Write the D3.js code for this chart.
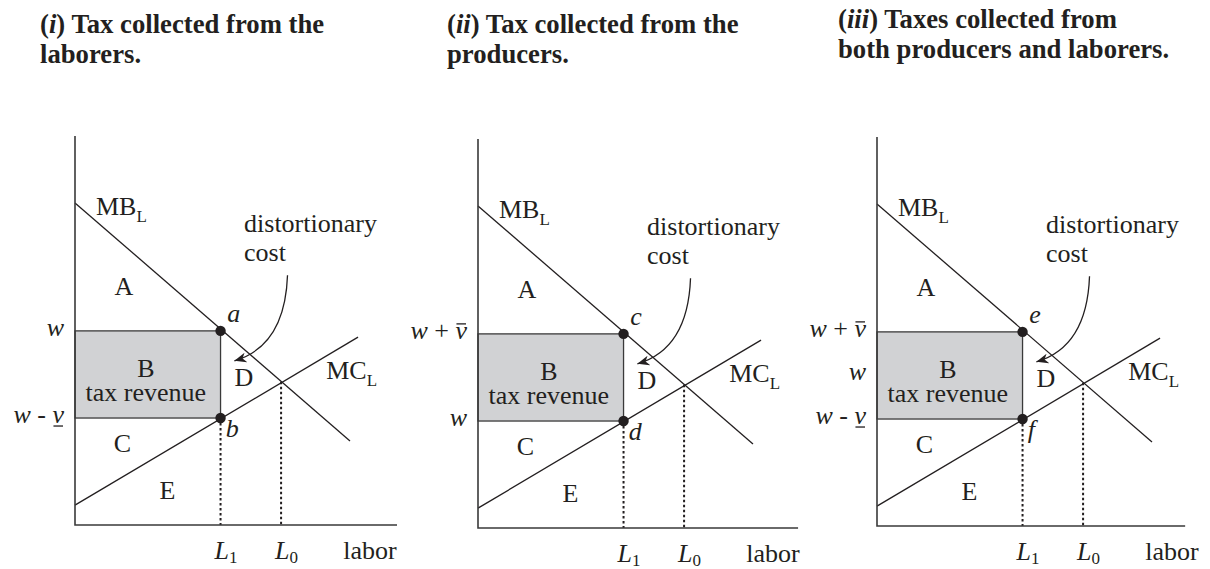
<!DOCTYPE html>
<html>
<head>
<meta charset="utf-8">
<script src="https://cdn.jsdelivr.net/npm/d3@7"></script>
<style>
  body { margin: 0; background: #fff; }
  text { font-family: "Liberation Serif", "Times New Roman", serif; fill: #231f20; }
</style>
</head>
<body>
<div id="container"></div>
<script>
let w = 1210;
let h = 569;

// DATA (axis units: labor 0-10, price 0-10)
let numerals = ["i", "ii", "iii"];
let titleFirst = [" Tax collected from the", " Tax collected from the", " Taxes collected from"];
let titleSecond = ["laborers.", "producers.", "both producers and laborers."];

let mbLine = [[0, 8.28], [8.54, 2.16]];   // MB_L
let mcLine = [[0, 0.51], [8.79, 4.83]];   // MC_L
let laborTaxed = 4.52;    // L1
let laborFree = 6.4;      // L0
let priceTop = 4.99;      // price on MB at L1
let priceBottom = 2.75;   // price on MC at L1
let priceEq = 3.68;       // MB = MC
let xMax = [10, 9.94, 9.57];
let yMax = 10;

let pointNames = [["a", "b"], ["c", "d"], ["e", "f"]];
let priceValues = [[priceTop, priceBottom], [priceTop, priceBottom], [priceTop, (priceTop + priceBottom) / 2, priceBottom]];
let priceNames = [["w", "w - v\u0332"], ["w + v\u0304", "w"], ["w + v\u0304", "w", "w - v\u0332"]];
let areaNames = ["A", "B", "C", "D", "E"];

// SVG
let viz = d3.select("#container").append("svg")
    .attr("width", w)
    .attr("height", h)
;

viz.append("defs").append("marker")
    .attr("id", "arrowhead")
    .attr("viewBox", "-12 -6 14 12")
    .attr("refX", 0)
    .attr("refY", 0)
    .attr("markerWidth", 14)
    .attr("markerHeight", 12)
    .attr("markerUnits", "userSpaceOnUse")
    .attr("orient", "auto")
  .append("path")
    .attr("d", "M0,0 L-12,-5 L-8.5,0 L-12,5 Z")
    .attr("fill", "#231f20")
;

let origins = [[75, 525], [478, 528], [877, 526]];
let titlePos = [[40, 33], [447, 33], [838, 28]];

function subLabel(g, x0, y0, main, sub, italic, shift) {
  let t = g.append("text").attr("x", x0).attr("y", y0).style("font-size", "26px");
  t.append("tspan").style("font-style", italic ? "italic" : "normal").text(main);
  t.append("tspan").attr("dy", shift).style("font-size", "17px").text(sub);
  return t;
}

function priceLabel(g, xr, yb, str) {
  let t = g.append("text").attr("x", xr).attr("y", yb)
      .attr("text-anchor", "end").style("font-size", "26px");
  let chars = Array.from(str);
  let marks = [];
  let idx = 0;
  for (let k = 0; k < chars.length; k++) {
    let c = chars[k];
    if (c == "\u0304" || c == "\u0332") continue;
    t.append("tspan").style("font-style", /[a-z]/.test(c) ? "italic" : "normal").text(c);
    if (chars[k + 1] == "\u0304") marks.push({i: idx, over: true});
    if (chars[k + 1] == "\u0332") marks.push({i: idx, over: false});
    idx++;
  }
  marks.forEach(function(m) {
    let r = t.node().getExtentOfChar(m.i);
    let yy = m.over ? yb - 15 : yb + 3;
    g.append("line")
        .attr("x1", r.x + 1).attr("x2", r.x + r.width - 1)
        .attr("y1", yy).attr("y2", yy)
        .attr("stroke", "#231f20").attr("stroke-width", 1.3);
  });
}

numerals.forEach(function(num, i) {
  let g = viz.append("g");
  let ox = origins[i][0], oy = origins[i][1];
  let x = d3.scaleLinear().domain([0, 10]).range([ox, ox + 322]);
  let y = d3.scaleLinear().domain([0, 10]).range([oy, oy - 389]);
  let lineMaker = d3.line().x(d => x(d[0])).y(d => y(d[1]));

  // title
  let tt = g.append("text").attr("x", titlePos[i][0]).attr("y", titlePos[i][1])
      .style("font-size", "26.7px").style("font-weight", "bold");
  tt.append("tspan").text("(");
  tt.append("tspan").style("font-style", "italic").text(num);
  tt.append("tspan").text(")" + titleFirst[i]);
  g.append("text").attr("x", titlePos[i][0]).attr("y", titlePos[i][1] + 30)
      .style("font-size", "26.7px").style("font-weight", "bold")
      .text(titleSecond[i]);

  // tax revenue box
  g.append("rect")
      .attr("x", x(0))
      .attr("y", y(priceTop))
      .attr("width", x(laborTaxed) - x(0))
      .attr("height", y(priceBottom) - y(priceTop))
      .attr("fill", "#d1d2d4")
      .attr("stroke", "#3a3a3a")
      .attr("stroke-width", 1.3)
  ;

  // curves
  g.selectAll(".curve").data([mbLine, mcLine]).enter()
    .append("path")
      .attr("class", "curve")
      .attr("d", lineMaker)
      .attr("fill", "none")
      .attr("stroke", "#231f20")
      .attr("stroke-width", 1.3)
  ;

  // dotted drop lines
  g.selectAll(".drop").data([[laborTaxed, priceBottom], [laborFree, priceEq]]).enter()
    .append("line")
      .attr("class", "drop")
      .attr("x1", d => x(d[0])).attr("x2", d => x(d[0]))
      .attr("y1", d => y(d[1])).attr("y2", y(0))
      .attr("stroke", "#231f20")
      .attr("stroke-width", 2)
      .attr("stroke-dasharray", "2.5,2.5")
  ;

  // axes
  g.append("path")
      .attr("d", lineMaker([[0, yMax], [0, 0], [xMax[i], 0]]))
      .attr("fill", "none")
      .attr("stroke", "#3a3a3a")
      .attr("stroke-width", 1.6)
  ;

  // points
  g.selectAll(".pt").data([priceTop, priceBottom]).enter()
    .append("circle")
      .attr("class", "pt")
      .attr("cx", x(laborTaxed))
      .attr("cy", d => y(d))
      .attr("r", 5.2)
      .attr("fill", "#231f20")
  ;

  // point labels
  g.append("text").attr("x", x(4.73)).attr("y", y(5.22))
      .style("font-size", "26px").style("font-style", "italic").text(pointNames[i][0]);
  g.append("text").attr("x", x(4.68)).attr("y", y(2.27))
      .style("font-size", "26px").style("font-style", "italic").text(pointNames[i][1]);

  // areas
  let areaPos = [[1.52, 5.9, "middle"], [2.2, 3.8, "middle"], [1.47, 1.87, "middle"], [4.95, 3.58, "start"], [2.87, 0.66, "middle"]];
  areaNames.forEach(function(a, k) {
    g.append("text").attr("x", x(areaPos[k][0])).attr("y", y(areaPos[k][1]))
        .attr("text-anchor", areaPos[k][2]).style("font-size", "26px").text(a);
  });
  g.append("text").attr("x", x(2.2)).attr("y", y(3.2))
      .attr("text-anchor", "middle").style("font-size", "26px").text("tax revenue");

  // curve names
  subLabel(g, x(0.65), y(7.98), "MB", "L", false, 7);
  subLabel(g, x(7.8), y(3.75), "MC", "L", false, 7);

  // distortionary cost note + arrow
  g.append("text").attr("x", x(5.25)).attr("y", y(7.52)).style("font-size", "26px").text("distortionary");
  g.append("text").attr("x", x(5.25)).attr("y", y(6.79)).style("font-size", "26px").text("cost");
  let p = d3.path();
  p.moveTo(x(6.6), y(6.42));
  p.quadraticCurveTo(x(6.52), y(4.6), x(4.95), y(4.22));
  g.append("path")
      .attr("d", p.toString())
      .attr("fill", "none")
      .attr("stroke", "#231f20")
      .attr("stroke-width", 1.3)
      .attr("marker-end", "url(#arrowhead)")
  ;

  // labor axis labels
  subLabel(g, x(laborTaxed) - 6, y(0) + 34, "L", "1", true, 4);
  subLabel(g, x(laborFree) - 6, y(0) + 34, "L", "0", true, 4);
  g.append("text").attr("x", x(8.33)).attr("y", y(0) + 34).style("font-size", "26px").text("labor");

  // price labels
  priceValues[i].forEach(function(v, k) {
    priceLabel(g, x(0) - 11, y(v) + 5, priceNames[i][k]);
  });
});
</script>
</body>
</html>
